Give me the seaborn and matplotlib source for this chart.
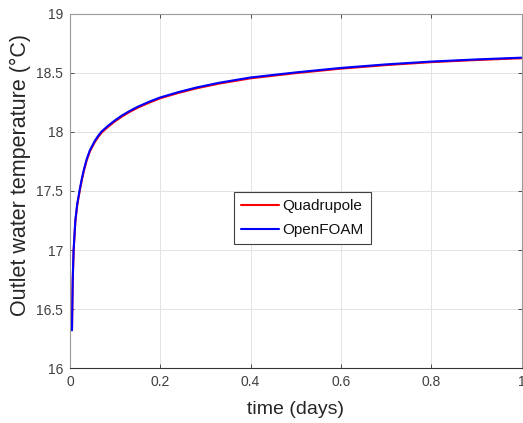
import numpy as np
import pandas as pd
import matplotlib
matplotlib.use("Agg")
import matplotlib.pyplot as plt
import seaborn as sns

# Data
time_days = [0.0044, 0.005, 0.006, 0.008, 0.0118, 0.016, 0.021, 0.026, 0.031,
             0.037, 0.044, 0.055, 0.062, 0.070, 0.085, 0.100, 0.115, 0.133,
             0.150, 0.175, 0.200, 0.240, 0.280, 0.330, 0.400, 0.500, 0.600,
             0.700, 0.800, 0.900, 1.000]
openfoam = [16.32, 16.50, 16.75, 17.00, 17.25, 17.39, 17.50, 17.60, 17.685,
            17.77, 17.845, 17.925, 17.965, 18.005, 18.055, 18.10, 18.14, 18.18,
            18.214, 18.256, 18.293, 18.338, 18.377, 18.417, 18.462, 18.505, 18.543,
            18.573, 18.597, 18.615, 18.630]
quadrupole = [16.32, 16.49, 16.74, 16.99, 17.24, 17.38, 17.49, 17.59, 17.675,
              17.76, 17.835, 17.915, 17.955, 17.995, 18.046, 18.091, 18.131, 18.172,
              18.206, 18.248, 18.286, 18.331, 18.370, 18.410, 18.455, 18.499, 18.537,
              18.567, 18.592, 18.610, 18.625]
series_names = ["Quadrupole", "OpenFOAM"]
series_colors = ["#ff0000", "#0000ff"]
xticks = [0, 0.2, 0.4, 0.6, 0.8, 1]
xticklabels = ["0", "0.2", "0.4", "0.6", "0.8", "1"]
yticks = [16, 16.5, 17, 17.5, 18, 18.5, 19]
yticklabels = ["16", "16.5", "17", "17.5", "18", "18.5", "19"]

df = pd.concat([
    pd.DataFrame({"time": time_days, "temp": quadrupole, "series": series_names[0]}),
    pd.DataFrame({"time": time_days, "temp": openfoam, "series": series_names[1]}),
], ignore_index=True)

sns.set_theme(style="white")
plt.rcParams["font.family"] = ["Liberation Sans", "DejaVu Sans"]

fig = plt.figure(figsize=(5.23, 4.23), dpi=100)
ax = fig.add_axes([70 / 523, 1 - 368 / 423, (521.5 - 70) / 523, (368 - 14) / 423])

sns.lineplot(data=df, x="time", y="temp", hue="series", hue_order=series_names,
             palette=dict(zip(series_names, series_colors)), linewidth=1.5,
             sort=False, estimator=None, ax=ax)

ax.set_xlim(0, 1)
ax.set_ylim(16, 19)
ax.set_xticks(xticks)
ax.set_xticklabels(xticklabels)
ax.set_yticks(yticks)
ax.set_yticklabels(yticklabels)
ax.grid(True, color="#e3e3e3", linewidth=0.7)
ax.set_axisbelow(True)
ax.tick_params(direction="in", length=3, width=0.6, colors="#333333",
               labelsize=10, labelcolor="#404040", pad=5,
               top=True, right=True, bottom=True, left=True)
for side in ["left", "top", "right"]:
    ax.spines[side].set_color("#9a9a9a")
    ax.spines[side].set_linewidth(0.8)
ax.spines["bottom"].set_color("#333333")
ax.spines["bottom"].set_linewidth(0.8)

ax.set_xlabel("time (days)", fontsize=14, color="#262626")
ax.xaxis.set_label_coords(0.5, -(409 - 368) / 354, transform=ax.transAxes)
ax.xaxis.label.set_va("center")
ax.set_ylabel("Outlet water temperature (°C)", fontsize=15.5, color="#262626")
ax.yaxis.set_label_coords(-(70 - 20) / 451.5, (368 - 175) / 354, transform=ax.transAxes)
ax.yaxis.label.set_va("center")

leg = ax.legend(loc="upper left", bbox_to_anchor=(234 / 523, 1 - 192 / 423),
                bbox_transform=fig.transFigure, fontsize=11, frameon=True,
                fancybox=False, framealpha=1, edgecolor="#404040",
                handlelength=2.45, handletextpad=0.26, borderpad=0.48,
                labelspacing=0.63, borderaxespad=0)
leg.get_frame().set_linewidth(0.8)
for t in leg.get_texts():
    t.set_color("#111111")

fig.savefig("out.png", dpi=100)
